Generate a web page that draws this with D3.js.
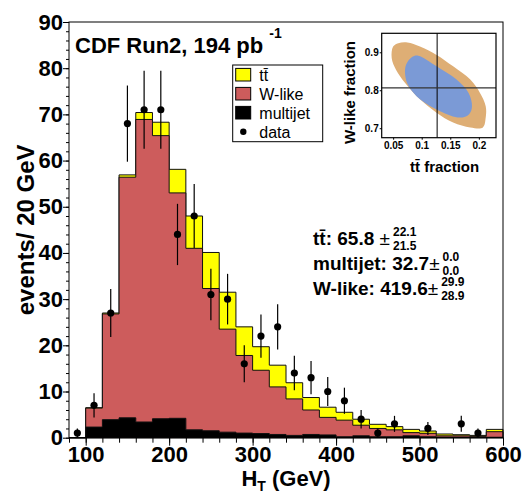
<!DOCTYPE html>
<html>
<head>
<meta charset="utf-8">
<script src="https://cdn.jsdelivr.net/npm/d3@7"></script>
<style>
  body { margin: 0; background: #fff; }
  text { font-family: "Liberation Sans", Arial, sans-serif; }
</style>
</head>
<body>
<svg width="525" height="493"></svg>
<script>
// ---- data ----
var binLow = [80, 100, 120, 140, 160, 180, 200, 220, 240, 260, 280, 300, 320,
              340, 360, 380, 400, 420, 440, 460, 480, 500, 520, 540, 560, 580];
var binWidth = 20;
var multijet = [0, 2.3, 3.9, 4.3, 3.4, 4.1, 4.2, 1.7, 1.5, 1.2, 1.0, 0.9, 0.7,
                0.5, 0.7, 0.6, 0.2, 0.4, 0.2, 0.2, 0.4, 0.2, 0.1, 0.1, 0.1, 0.1];
var wlike = [0, 4.1, 22.9, 52.1, 65.5, 61.3, 48.8, 39.3, 30.8, 22.3, 16.8, 13.7, 10.3,
             7.9, 5.3, 3.8, 3.6, 2.3, 1.8, 1.5, 0.7, 0.75, 0.3, 0.3, 0.2, 1.2];
var ttbar = [0, 0.1, 0.2, 0.5, 1.5, 2.9, 5.1, 7.0, 7.8, 8.0, 6.2, 5.1, 4.7,
             3.5, 2.7, 2.2, 1.7, 1.3, 0.9, 0.7, 0.7, 0.5, 0.4, 0.25, 0.2, 0.5];
var dataCounts = [1, 7, 27, 68, 71, 71, 44, 48, 31, 30, 16, 22, 24,
                  14, 13, 10, 8, 4, 1, 3, 0, 2, 0, 3, 1, 0];
var xTicks = [100, 200, 300, 400, 500, 600];
var yTicks = [0, 10, 20, 30, 40, 50, 60, 70, 80, 90];

// fit result (inset)
var fitTtFrac = 0.127, fitWFrac = 0.806;
var outerContour = [[0.0475,0.885],[0.050,0.915],[0.059,0.924],[0.075,0.926],[0.097,0.915],
  [0.126,0.893],[0.155,0.863],[0.185,0.828],[0.202,0.793],[0.212,0.758],[0.212,0.728],
  [0.207,0.702],[0.185,0.702],[0.155,0.715],[0.126,0.741],[0.097,0.776],[0.071,0.819],[0.055,0.854]];
var innerContour = [[0.0726,0.867],[0.0825,0.887],[0.094,0.891],[0.126,0.863],[0.161,0.828],
  [0.182,0.793],[0.188,0.758],[0.183,0.737],[0.167,0.728],[0.132,0.745],[0.097,0.776],
  [0.077,0.811],[0.071,0.841]];
var insetXTicks = [0.05, 0.1, 0.15, 0.2];
var insetYTicks = [0.7, 0.8, 0.9];

var fitLines = [
  {name: "tt\u0304: 65.8 ", up: "22.1", down: "21.5"},
  {name: "multijet: 32.7", up: "0.0", down: "0.0"},
  {name: "W-like: 419.6", up: "29.9", down: "28.9"}
];
var legendItems = [
  {label: "tt\u0304", color: "#ffff00", kind: "box"},
  {label: "W-like", color: "#cd5c5c", kind: "box"},
  {label: "multijet", color: "#000", kind: "box"},
  {label: "data", color: "#000", kind: "dot"}
];
var ttColor = "#ffff00", wColor = "#cd5c5c", mjColor = "#000";

// ---- plot frame ----
var svg = d3.select("svg");
var pLeft = 69, pRight = 503, pTop = 22, pBottom = 437.7;

var x = d3.scaleLinear().domain([80, 600]).range([pLeft, pRight]);
var y = d3.scaleLinear().domain([0, 90]).range([pBottom, pTop]);

// stack the three components
var rows = binLow.map(function(b, i) {
  return {low: b, multijet: multijet[i], wlike: wlike[i], ttbar: ttbar[i]};
});
var stacked = d3.stack().keys(["multijet", "wlike", "ttbar"])(rows);

var area = d3.area()
    .curve(d3.curveStepAfter)
    .x(function(d) { return x(d.x); })
    .y0(y(0))
    .y1(function(d) { return y(d.v); });

function stepPoints(serie) {
  var pts = serie.map(function(d, i) { return {x: binLow[i], v: d[1]}; });
  pts.push({x: binLow[binLow.length - 1] + binWidth, v: serie[serie.length - 1][1]});
  return pts;
}

var colors = {multijet: mjColor, wlike: wColor, ttbar: ttColor};
// draw top of stack first, like ROOT's THStack
stacked.slice().reverse().forEach(function(s) {
  svg.append("path")
      .datum(stepPoints(s))
      .attr("fill", colors[s.key])
      .attr("stroke", "#111")
      .attr("stroke-width", 1)
      .attr("d", area);
});

// data points with sqrt(N) errors
var pts = rows.map(function(d, i) { return {c: d.low + binWidth / 2, n: dataCounts[i]}; })
    .filter(function(d) { return d.n > 0; });
svg.selectAll(".err").data(pts).enter().append("line")
    .attr("class", "err")
    .attr("x1", function(d) { return x(d.c); })
    .attr("x2", function(d) { return x(d.c); })
    .attr("y1", function(d) { return y(d.n + Math.sqrt(d.n)); })
    .attr("y2", function(d) { return y(Math.max(0, d.n - Math.sqrt(d.n))); })
    .attr("stroke", "#000").attr("stroke-width", 1.2);
svg.selectAll(".pt").data(pts).enter().append("circle")
    .attr("class", "pt")
    .attr("cx", function(d) { return x(d.c); })
    .attr("cy", function(d) { return y(d.n); })
    .attr("r", 3.6)
    .attr("fill", "#000");

// frame
svg.append("rect")
    .attr("x", pLeft).attr("y", pTop)
    .attr("width", pRight - pLeft).attr("height", pBottom - pTop)
    .attr("fill", "none").attr("stroke", "#000").attr("stroke-width", 1);

// y axis: minor + major ticks
var yMinor = d3.range(0, 91, 2);
svg.append("g")
    .attr("transform", "translate(" + pLeft + ",0)")
    .call(d3.axisLeft(y).tickValues(yMinor).tickSize(3).tickFormat(""))
    .call(function(g) { g.select(".domain").remove(); });
var gy = svg.append("g")
    .attr("transform", "translate(" + pLeft + ",0)")
    .call(d3.axisLeft(y).tickValues(yTicks).tickSize(6).tickPadding(0));
gy.select(".domain").remove();
gy.selectAll("text").attr("font-size", 22).attr("font-weight", "bold")
    .attr("font-family", "Liberation Sans, Arial, sans-serif").attr("fill", "#000");

// x axis
svg.append("g")
    .attr("transform", "translate(0," + pBottom + ")")
    .call(d3.axisBottom(x).tickValues(binLow.concat([600])).tickSize(5).tickFormat(""))
    .call(function(g) { g.select(".domain").remove(); });
var gx = svg.append("g")
    .attr("transform", "translate(0," + pBottom + ")")
    .call(d3.axisBottom(x).tickValues(xTicks).tickSize(8).tickPadding(1));
gx.select(".domain").remove();
gx.selectAll("text").attr("font-size", 22).attr("font-weight", "bold")
    .attr("font-family", "Liberation Sans, Arial, sans-serif").attr("fill", "#000");

// axis titles
var xt = svg.append("text")
    .attr("x", (pLeft + pRight) / 2).attr("y", 486)
    .attr("text-anchor", "middle")
    .attr("font-size", 22).attr("font-weight", "bold");
xt.append("tspan").text("H");
xt.append("tspan").attr("font-size", 14).attr("dy", 4.5).text("T");
xt.append("tspan").attr("dy", -4.5).text(" (GeV)");

svg.append("text")
    .attr("transform", "translate(34," + ((pTop + pBottom) / 2) + ") rotate(-90)")
    .attr("text-anchor", "middle")
    .attr("font-size", 24).attr("font-weight", "bold")
    .text("events/ 20 GeV");

// title
var tt = svg.append("text")
    .attr("x", 75).attr("y", 52.5)
    .attr("font-size", 22).attr("font-weight", "bold");
tt.append("tspan").text("CDF Run2, 194 pb ");
tt.append("tspan").attr("font-size", 14).attr("dy", -15).text("-1");

// legend
var lg = svg.append("g");
lg.append("rect")
    .attr("x", 232.7).attr("y", 65).attr("width", 90).attr("height", 76.7)
    .attr("fill", "#fff").attr("stroke", "#000").attr("stroke-width", 1);
legendItems.forEach(function(d, i) {
  var cy = 74.7 + 19 * i;
  if (d.kind === "box") {
    lg.append("rect")
        .attr("x", 235.7).attr("y", cy - 6.3).attr("width", 15).attr("height", 12.6)
        .attr("fill", d.color).attr("stroke", "#000").attr("stroke-width", 1);
  } else {
    lg.append("circle").attr("cx", 243.3).attr("cy", cy).attr("r", 3.2).attr("fill", d.color);
  }
  lg.append("text")
      .attr("x", 259.3).attr("y", cy + 6)
      .attr("font-size", 16)
      .text(d.label);
});

// fit results
fitLines.forEach(function(d, i) {
  var base = 245 + 25 * i;
  var t = svg.append("text")
      .attr("x", 313).attr("y", base)
      .attr("font-size", 19).attr("font-weight", "bold");
  t.append("tspan").text(d.name);
  t.append("tspan").attr("font-weight", "normal").text("\u00b1");
  var endX = t.node().getComputedTextLength() + 313 + 3;
  svg.append("text").attr("x", endX).attr("y", base - 9)
      .attr("font-size", 12).attr("font-weight", "bold").text(d.up);
  svg.append("text").attr("x", endX).attr("y", base + 5)
      .attr("font-size", 12).attr("font-weight", "bold").text(d.down);
});

// ---- inset ----
var ix = d3.scaleLinear().domain([0.03, 0.23]).range([381.7, 496]);
var iy = d3.scaleLinear().domain([0.675, 0.95]).range([137.7, 33.3]);
var contourLine = d3.line()
    .curve(d3.curveCatmullRomClosed)
    .x(function(d) { return ix(d[0]); })
    .y(function(d) { return iy(d[1]); });
svg.append("path").attr("d", contourLine(outerContour)).attr("fill", "#deae75");
svg.append("path").attr("d", contourLine(innerContour)).attr("fill", "#7b9ad6");

svg.append("line")
    .attr("x1", ix(fitTtFrac)).attr("x2", ix(fitTtFrac))
    .attr("y1", iy(0.675)).attr("y2", iy(0.95))
    .attr("stroke", "#000").attr("stroke-width", 1);
svg.append("line")
    .attr("x1", ix(0.03)).attr("x2", ix(0.23))
    .attr("y1", iy(fitWFrac)).attr("y2", iy(fitWFrac))
    .attr("stroke", "#333").attr("stroke-width", 1.2);
svg.append("rect")
    .attr("x", 381.7).attr("y", 33.3).attr("width", 496 - 381.7).attr("height", 137.7 - 33.3)
    .attr("fill", "none").attr("stroke", "#000").attr("stroke-width", 1.2);

var gix = svg.append("g").attr("transform", "translate(0,137.7)")
    .call(d3.axisBottom(ix).tickValues(insetXTicks).tickSize(2).tickPadding(2)
      .tickFormat(function(d) { return String(d); }));
gix.select(".domain").remove();
gix.selectAll("text").attr("font-size", 10).attr("font-weight", "bold")
    .attr("font-family", "Liberation Sans, Arial, sans-serif").attr("fill", "#000");
var giy = svg.append("g").attr("transform", "translate(381.7,0)")
    .call(d3.axisLeft(iy).tickValues(insetYTicks).tickSize(2).tickPadding(1)
      .tickFormat(function(d) { return String(d); }));
giy.select(".domain").remove();
giy.selectAll("text").attr("font-size", 10).attr("font-weight", "bold")
    .attr("font-family", "Liberation Sans, Arial, sans-serif").attr("fill", "#000");

svg.append("text")
    .attr("transform", "translate(355,92.5) rotate(-90)")
    .attr("text-anchor", "middle")
    .attr("font-size", 15).attr("font-weight", "bold")
    .text("W-like fraction");
svg.append("text")
    .attr("x", 410).attr("y", 171.7)
    .attr("font-size", 15).attr("font-weight", "bold")
    .text("tt\u0304 fraction");
</script>
</body>
</html>
